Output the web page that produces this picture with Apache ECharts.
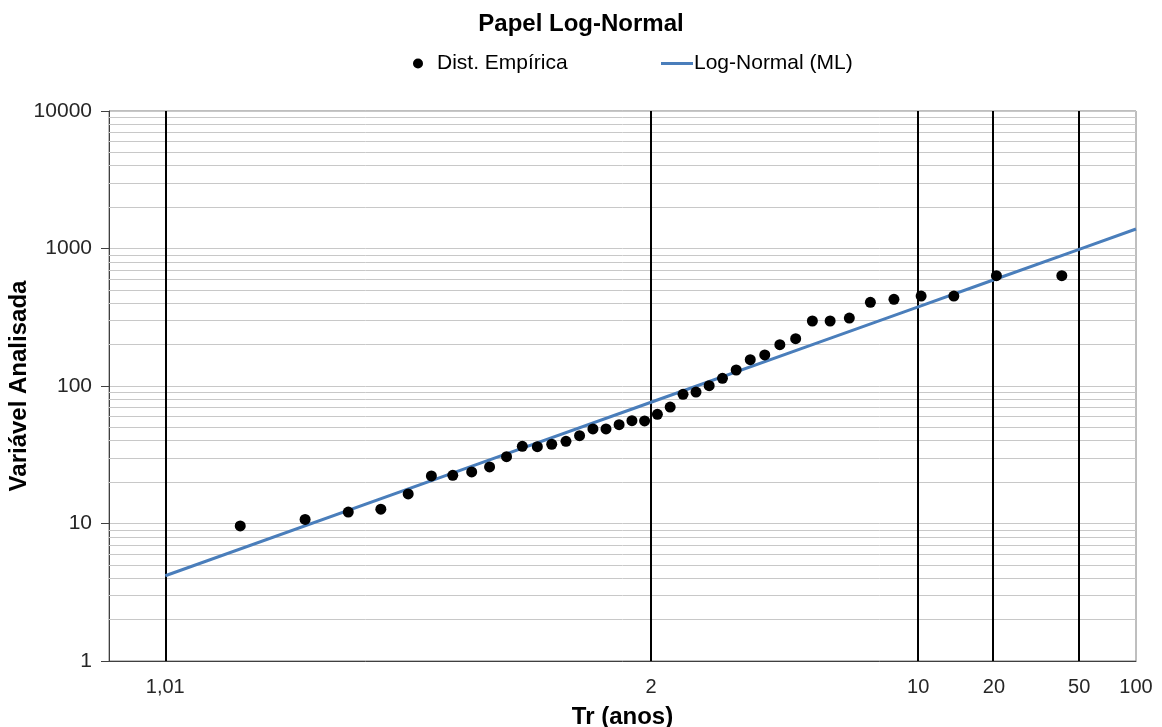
<!DOCTYPE html>
<html>
<head>
<meta charset="utf-8">
<title>Papel Log-Normal</title>
<script src="https://cdn.jsdelivr.net/npm/echarts@6/dist/echarts.min.js"></script>
<style>
    html, body { margin: 0; padding: 0; background: #fff; }
    #chart { width: 1162px; height: 727px; }
</style>
</head>
<body>
<div id="chart"></div>
<script>
// empirical distribution (Weibull plotting positions), Tr in years
const trEmp = [
    1.025, 1.051, 1.079, 1.108, 1.139, 1.171, 1.206, 1.242, 1.281, 1.323,
    1.367, 1.414, 1.464, 1.519, 1.577, 1.64, 1.708, 1.783, 1.864, 1.952,
    2.05, 2.158, 2.278, 2.412, 2.563, 2.733, 2.929, 3.154, 3.417, 3.727,
    4.1, 4.556, 5.125, 5.857, 6.833, 8.2, 10.25, 13.667, 20.5, 41
];
const qEmp = [
    9.6, 10.7, 12.1, 12.7, 16.4, 22.2, 22.4, 23.7, 25.8, 30.6,
    36.4, 36.2, 37.7, 39.6, 43.5, 48.7, 48.7, 52.3, 55.9, 55.7,
    62.2, 70.3, 87, 90.4, 100.5, 113.8, 130.7, 155.3, 168.1, 199.7,
    220.8, 297, 297, 312, 406, 427, 451, 451, 634, 634
];

// fitted log-normal curve
const trFit = [1.01, 1.25, 2, 5, 10, 20, 50, 100];
const qFit = [4.17, 26.7, 76.2, 217.6, 376.7, 592.6, 986.5, 1386];

// x tick positions / labels (return period)
const xTicks = [1.01, 2, 10, 20, 50, 100];
const xTickLabels = ['1,01', '2', '10', '20', '50', '100'];
const xLines = [1.01, 2, 10, 20, 50];

const LINE_COLOR = '#4A7EBB';
const FONT = 'Arial, "Liberation Sans", sans-serif';

// inverse standard normal cdf (Acklam)
function probit(p) {
    const a = [-3.969683028665376e+01, 2.209460984245205e+02, -2.759285104469687e+02,
        1.383577518672690e+02, -3.066479806614716e+01, 2.506628277459239e+00];
    const b = [-5.447609879822406e+01, 1.615858368580409e+02, -1.556989798598866e+02,
        6.680131188771972e+01, -1.328068155288572e+01];
    const c = [-7.784894002430293e-03, -3.223964580411365e-01, -2.400758277161838e+00,
        -2.549732539343734e+00, 4.374664141464968e+00, 2.938163982698783e+00];
    const d = [7.784695709041462e-03, 3.224671290700398e-01, 2.445134137142996e+00,
        3.754408661907416e+00];
    const pl = 0.02425;
    let q, r;
    if (p < pl) {
        q = Math.sqrt(-2 * Math.log(p));
        return (((((c[0] * q + c[1]) * q + c[2]) * q + c[3]) * q + c[4]) * q + c[5]) /
            ((((d[0] * q + d[1]) * q + d[2]) * q + d[3]) * q + 1);
    }
    if (p <= 1 - pl) {
        q = p - 0.5;
        r = q * q;
        return (((((a[0] * r + a[1]) * r + a[2]) * r + a[3]) * r + a[4]) * r + a[5]) * q /
            (((((b[0] * r + b[1]) * r + b[2]) * r + b[3]) * r + b[4]) * r + 1);
    }
    q = Math.sqrt(-2 * Math.log(1 - p));
    return -(((((c[0] * q + c[1]) * q + c[2]) * q + c[3]) * q + c[4]) * q + c[5]) /
        ((((d[0] * q + d[1]) * q + d[2]) * q + d[3]) * q + 1);
}
const trToZ = tr => probit(1 - 1 / tr);

const xTickZ = xTicks.map(trToZ);

// grid lines as mark lines: minor log lines + black return period lines
const gridMarks = [];
[1, 10, 100, 1000].forEach(dec => {
    for (let m = 2; m <= 9; m++) {
        gridMarks.push({ yAxis: m * dec, lineStyle: { color: '#c8c8c8', width: 1, type: 'solid' } });
    }
});
xLines.forEach(tr => {
    gridMarks.push({ xAxis: trToZ(tr), lineStyle: { color: '#000', width: 2, type: 'solid' } });
});

const chart = echarts.init(document.getElementById('chart'));

chart.setOption({
    animation: false,
    textStyle: { fontFamily: FONT },
    title: {
        text: 'Papel Log-Normal',
        left: 'center',
        top: 7,
        textStyle: { fontFamily: FONT, fontSize: 24, fontWeight: 'bold', color: '#000' }
    },
    legend: [
        {
            data: ['Dist. Empírica'],
            left: 408,
            top: 48,
            icon: 'circle',
            itemWidth: 10,
            itemHeight: 10,
            textStyle: { fontFamily: FONT, fontSize: 21, color: '#000', padding: [0, 0, 0, 9] }
        },
        {
            data: ['Log-Normal (ML)'],
            left: 656,
            top: 48,
            icon: 'rect',
            itemWidth: 32,
            itemHeight: 3,
            textStyle: { fontFamily: FONT, fontSize: 21, color: '#000', padding: [0, 0, 0, -4] }
        }
    ],
    grid: {
        left: 109,
        right: 26,
        top: 111,
        bottom: 66,
        show: true,
        borderColor: '#7f7f7f',
        borderWidth: 1,
        containLabel: false,
        outerBoundsMode: 'none'
    },
    xAxis: {
        type: 'value',
        min: -2.6,
        max: trToZ(100),
        name: 'Tr (anos)',
        nameLocation: 'middle',
        nameGap: 44,
        nameTextStyle: { fontFamily: FONT, fontSize: 24, fontWeight: 'bold', color: '#000' },
        axisLine: { show: true, onZero: false, lineStyle: { color: '#404040', width: 1 } },
        axisTick: { show: false },
        splitLine: { show: false },
        axisLabel: {
            customValues: xTickZ,
            fontSize: 20,
            color: '#262626',
            margin: 16,
            showMinLabel: true,
            showMaxLabel: true,
            formatter: v => {
                let best = 0;
                xTickZ.forEach((z, i) => {
                    if (Math.abs(z - v) < Math.abs(xTickZ[best] - v)) best = i;
                });
                return xTickLabels[best];
            }
        }
    },
    yAxis: {
        type: 'log',
        logBase: 10,
        min: 1,
        max: 10000,
        name: 'Variável Analisada',
        nameLocation: 'middle',
        nameGap: 78,
        nameMoveOverlap: false,
        nameTextStyle: { fontFamily: FONT, fontSize: 24, fontWeight: 'bold', color: '#000' },
        axisLine: { show: true, onZero: false, lineStyle: { color: '#404040', width: 1 } },
        axisTick: { show: true, inside: false, length: 8, lineStyle: { color: '#404040' } },
        axisLabel: {
            fontSize: 21,
            color: '#262626',
            margin: 17,
            formatter: v => String(Math.round(v))
        },
        splitLine: { show: true, lineStyle: { color: '#c8c8c8', width: 1 } }
    },
    series: [
        {
            type: 'line',
            data: [],
            silent: true,
            z: 1,
            markLine: {
                silent: true,
                symbol: ['none', 'none'],
                label: { show: false },
                z: 1,
                animation: false,
                data: gridMarks
            }
        },
        {
            name: 'Log-Normal (ML)',
            type: 'line',
            z: 3,
            showSymbol: false,
            symbol: 'none',
            lineStyle: { color: LINE_COLOR, width: 3 },
            itemStyle: { color: LINE_COLOR },
            data: trFit.map((tr, i) => [trToZ(tr), qFit[i]])
        },
        {
            name: 'Dist. Empírica',
            type: 'scatter',
            z: 4,
            symbol: 'circle',
            symbolSize: 11,
            itemStyle: { color: '#000', opacity: 1 },
            data: trEmp.map((tr, i) => [trToZ(tr), qEmp[i]])
        }
    ]
});
</script>
</body>
</html>
